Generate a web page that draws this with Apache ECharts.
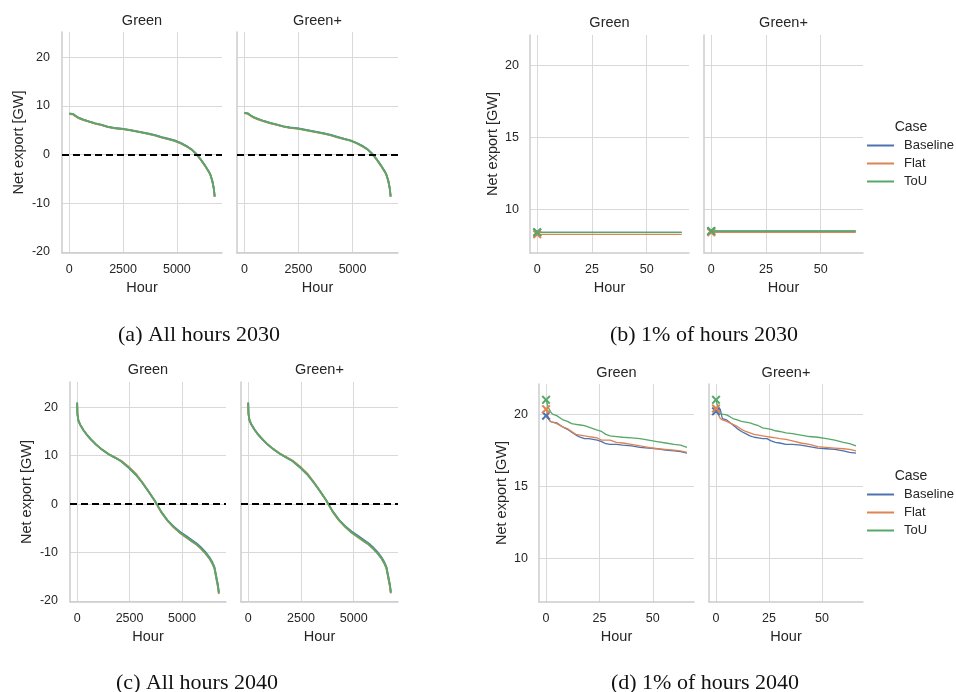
<!DOCTYPE html>
<html>
<head>
<meta charset="utf-8">
<script src="https://cdn.jsdelivr.net/npm/echarts@6/dist/echarts.min.js"></script>
<style>
html, body { margin: 0; padding: 0; background: #fff; }
#main { width: 956px; height: 692px; }
</style>
</head>
<body>
<div id="main"></div>
<script>
var caseNames = ['Baseline', 'Flat', 'ToU'];
var caseColors = ['#4c72b0', '#dd8452', '#55a868'];
var scenarios = ['Green', 'Green+'];

// duration curves, all hours (sorted net export), sampled hours
var hoursAll = [0, 15, 60, 150, 300, 450, 650, 900, 1200, 1500, 1800, 2100, 2500, 2800, 3100, 3400,
    3700, 4000, 4300, 4600, 4900, 5200, 5500, 5700, 5900, 6100, 6300, 6450, 6550, 6650, 6720, 6760];

var all2030GreenBaseline = [8.45, 8.45, 8.45, 8.4, 7.95, 7.55, 7.2, 6.85, 6.45, 6.1, 5.72, 5.48, 5.3, 5.1, 4.85, 4.6,
    4.3, 4.0, 3.62, 3.28, 2.92, 2.38, 1.65, 1.05, 0.2, -0.9, -2.15, -3.2, -3.95, -5.35, -6.95, -8.55];
var all2030GreenFlat = [8.35, 8.35, 8.35, 8.3, 7.85, 7.45, 7.1, 6.78, 6.4, 6.05, 5.68, 5.43, 5.25, 5.02, 4.78, 4.52,
    4.22, 3.92, 3.52, 3.17, 2.82, 2.27, 1.57, 0.97, 0.12, -0.98, -2.23, -3.28, -4.05, -5.45, -7.05, -8.65];
var all2030GreenToU = [8.45, 8.45, 8.45, 8.4, 7.95, 7.55, 7.2, 6.85, 6.45, 6.1, 5.7, 5.45, 5.27, 5.05, 4.8, 4.55,
    4.25, 3.95, 3.55, 3.2, 2.85, 2.3, 1.6, 1.0, 0.15, -0.95, -2.2, -3.25, -4.0, -5.4, -7.0, -8.6];

var all2030GreenPlusBaseline = [8.6, 8.6, 8.6, 8.5, 8.05, 7.65, 7.3, 6.92, 6.52, 6.17, 5.82, 5.58, 5.38, 5.15, 4.9, 4.65,
    4.35, 4.05, 3.66, 3.3, 2.95, 2.4, 1.7, 1.1, 0.25, -0.85, -2.1, -3.15, -3.9, -5.3, -6.9, -8.55];
var all2030GreenPlusFlat = [8.5, 8.5, 8.5, 8.42, 7.95, 7.55, 7.2, 6.84, 6.45, 6.1, 5.75, 5.5, 5.3, 5.06, 4.8, 4.55,
    4.25, 3.96, 3.56, 3.2, 2.86, 2.3, 1.6, 1.0, 0.15, -0.95, -2.2, -3.25, -4.0, -5.4, -7.0, -8.65];
var all2030GreenPlusToU = [8.6, 8.6, 8.6, 8.5, 8.05, 7.65, 7.3, 6.9, 6.5, 6.15, 5.8, 5.55, 5.35, 5.1, 4.85, 4.6,
    4.3, 4.0, 3.6, 3.25, 2.9, 2.35, 1.65, 1.05, 0.2, -0.9, -2.15, -3.2, -3.95, -5.35, -6.95, -8.6];

var all2040GreenBaseline = [20.9, 18.5, 17.2, 16.3, 15.25, 14.35, 13.35, 12.28, 11.2, 10.3, 9.6, 8.85, 7.35, 6.05, 4.45, 2.6,
    0.7, -1.55, -3.3, -4.6, -5.7, -6.6, -7.5, -8.1, -8.9, -9.8, -10.9, -12.0, -13.0, -15.2, -16.8, -18.2];
var all2040GreenFlat = [20.8, 18.55, 17.25, 16.35, 15.3, 14.4, 13.4, 12.32, 11.25, 10.35, 9.68, 8.95, 7.55, 6.3, 4.55, 2.7,
    0.7, -1.6, -3.4, -4.8, -5.95, -6.9, -7.8, -8.4, -9.2, -10.1, -11.2, -12.3, -13.3, -15.6, -17.2, -18.5];
var all2040GreenToU = [21.0, 18.6, 17.3, 16.4, 15.3, 14.4, 13.4, 12.3, 11.2, 10.3, 9.6, 8.85, 7.4, 6.1, 4.45, 2.65,
    0.75, -1.5, -3.3, -4.7, -5.85, -6.8, -7.7, -8.3, -9.1, -10.0, -11.1, -12.2, -13.2, -15.5, -17.0, -18.4];

var all2040GreenPlusBaseline = [20.9, 18.6, 17.3, 16.4, 15.35, 14.45, 13.45, 12.38, 11.3, 10.4, 9.65, 8.9, 7.4, 6.1, 4.5, 2.65,
    0.75, -1.5, -3.25, -4.55, -5.65, -6.55, -7.45, -8.05, -8.85, -9.75, -10.85, -11.95, -12.95, -15.1, -16.7, -18.1];
var all2040GreenPlusFlat = [20.8, 18.65, 17.35, 16.45, 15.4, 14.5, 13.5, 12.42, 11.35, 10.45, 9.72, 9.0, 7.6, 6.35, 4.6, 2.75,
    0.75, -1.55, -3.35, -4.75, -5.9, -6.85, -7.75, -8.35, -9.15, -10.05, -11.15, -12.25, -13.25, -15.5, -17.1, -18.4];
var all2040GreenPlusToU = [21.0, 18.7, 17.4, 16.5, 15.4, 14.5, 13.5, 12.4, 11.3, 10.4, 9.65, 8.9, 7.45, 6.15, 4.5, 2.7,
    0.8, -1.45, -3.25, -4.65, -5.8, -6.75, -7.65, -8.25, -9.05, -9.95, -11.05, -12.15, -13.15, -15.4, -16.9, -18.3];

// top 1% of hours
var hours1pct2030 = [0, 66];
var top2030GreenBaseline = [8.38, 8.38];
var top2030GreenFlat = [8.25, 8.25];
var top2030GreenToU = [8.39, 8.39];
var top2030GreenPlusBaseline = [8.47, 8.47];
var top2030GreenPlusFlat = [8.39, 8.39];
var top2030GreenPlusToU = [8.48, 8.48];

var hours1pct2040 = [0, 1, 2, 3, 5, 8, 10, 12, 14, 16, 18, 20, 22, 24, 26, 28, 30, 33, 36, 40, 44, 48, 52, 56, 60, 63, 66];
var top2040GreenBaseline = [19.9, 19.7, 19.5, 19.45, 19.4, 19.1, 18.95, 18.75, 18.55, 18.4, 18.3, 18.3, 18.25, 18.2,
    18.1, 17.95, 17.9, 17.9, 17.85, 17.8, 17.7, 17.65, 17.6, 17.5, 17.45, 17.4, 17.3];
var top2040GreenFlat = [20.35, 19.8, 19.5, 19.45, 19.35, 19.1, 19.0, 18.8, 18.6, 18.55, 18.5, 18.45, 18.4, 18.35,
    18.2, 18.2, 18.2, 18.05, 18.0, 17.9, 17.8, 17.7, 17.6, 17.55, 17.5, 17.45, 17.35];
var top2040GreenToU = [21.0, 20.5, 20.2, 20.0, 19.9, 19.6, 19.5, 19.35, 19.3, 19.25, 19.2, 19.1, 19.0, 18.9,
    18.8, 18.6, 18.5, 18.45, 18.4, 18.35, 18.3, 18.2, 18.1, 18.0, 17.9, 17.85, 17.7];
var top2040GreenPlusBaseline = [20.2, 20.3, 20.35, 19.7, 19.6, 19.25, 19.0, 18.8, 18.65, 18.5, 18.4, 18.35, 18.3, 18.3,
    18.15, 18.05, 18.0, 17.9, 17.9, 17.85, 17.75, 17.65, 17.6, 17.55, 17.45, 17.35, 17.3];
var top2040GreenPlusFlat = [20.4, 20.0, 19.7, 19.6, 19.5, 19.3, 19.15, 18.95, 18.8, 18.7, 18.6, 18.55, 18.5, 18.45,
    18.4, 18.35, 18.3, 18.25, 18.15, 18.0, 17.9, 17.75, 17.7, 17.65, 17.6, 17.55, 17.45];
var top2040GreenPlusToU = [21.0, 20.4, 20.05, 20.0, 19.95, 19.7, 19.6, 19.5, 19.45, 19.4, 19.3, 19.2, 19.05, 19.0,
    18.95, 18.85, 18.8, 18.7, 18.65, 18.55, 18.45, 18.4, 18.3, 18.2, 18.05, 17.95, 17.8];

var hourTicksAll = [0, 2500, 5000];
var hourTicks1pct = [0, 25, 50];
var exportTicksAll = [-20, -10, 0, 10, 20];
var exportTicks1pct = [10, 15, 20];

var captions = ['(a) All hours 2030', '(b) 1% of hours 2030', '(c) All hours 2040', '(d) 1% of hours 2040'];

var fig = {
    font: '"Liberation Sans", Arial, sans-serif',
    ink: '#262626',
    // x marker, like matplotlib 'x'
    cross: 'path://M1.6,0 L5,3.4 L8.4,0 L10,1.6 L6.6,5 L10,8.4 L8.4,10 L5,6.6 L1.6,10 L0,8.4 L3.4,5 L0,1.6 Z',

    draw: function (id) {
        var myChart = echarts.init(document.getElementById(id), null, {renderer: 'canvas'});
        myChart.setOption(this.getOption());
    },

    panels: function () {
        var allX = {min: -340, max: 7100, ticks: hourTicksAll};
        var pctX = {min: -3.3, max: 69.3, ticks: hourTicks1pct};
        var allY = {min: -20.2, max: 25.2, ticks: exportTicksAll};
        var pctY = {min: 6.95, max: 22.1, ticks: exportTicks1pct};
        return [
            {box: [62, 32, 160, 221], x: allX, y: allY, hours: hoursAll, zero: true, marks: false, first: true, nameGap: 36, labelMargin: 12, titleY: 21,
                data: [all2030GreenBaseline, all2030GreenFlat, all2030GreenToU]},
            {box: [237, 32, 161, 221], x: allX, y: allY, hours: hoursAll, zero: true, marks: false, first: false, titleY: 21,
                data: [all2030GreenPlusBaseline, all2030GreenPlusFlat, all2030GreenPlusToU]},
            {box: [530, 35, 159, 218], x: pctX, y: pctY, hours: hours1pct2030, zero: false, marks: true, first: true, nameGap: 30, labelMargin: 11, titleY: 23,
                data: [top2030GreenBaseline, top2030GreenFlat, top2030GreenToU]},
            {box: [704, 35, 159, 218], x: pctX, y: pctY, hours: hours1pct2030, zero: false, marks: true, first: false, titleY: 23,
                data: [top2030GreenPlusBaseline, top2030GreenPlusFlat, top2030GreenPlusToU]},
            {box: [70, 382, 156, 220], x: allX, y: allY, hours: hoursAll, zero: true, marks: false, first: true, nameGap: 36, labelMargin: 12, titleY: 370,
                data: [all2040GreenBaseline, all2040GreenFlat, all2040GreenToU]},
            {box: [241, 382, 157, 220], x: allX, y: allY, hours: hoursAll, zero: true, marks: false, first: false, titleY: 370,
                data: [all2040GreenPlusBaseline, all2040GreenPlusFlat, all2040GreenPlusToU]},
            {box: [539, 384, 155, 218], x: pctX, y: pctY, hours: hours1pct2040, zero: false, marks: true, first: true, nameGap: 30, labelMargin: 11, titleY: 373,
                data: [top2040GreenBaseline, top2040GreenFlat, top2040GreenToU]},
            {box: [709, 384, 154, 218], x: pctX, y: pctY, hours: hours1pct2040, zero: false, marks: true, first: false, titleY: 373,
                data: [top2040GreenPlusBaseline, top2040GreenPlusFlat, top2040GreenPlusToU]}
        ];
    },

    getOption: function () {
        var that = this;
        var option = {
            animation: false,
            backgroundColor: '#ffffff',
            textStyle: {fontFamily: this.font, color: this.ink},
            grid: [], xAxis: [], yAxis: [], series: [], graphic: [],
            legend: [this.legend(134), this.legend(483)]
        };
        var panels = this.panels();
        echarts.util.each(panels, function (p, idx) {
            that.addPanel(option, p, idx);
        });

        var capPos = [[199, 335], [704, 335], [197, 683], [705, 683]];
        echarts.util.each(captions, function (c, i) {
            option.graphic.push({
                type: 'text', x: capPos[i][0], y: capPos[i][1], silent: true,
                style: {text: c, fill: '#111', font: '22px "Liberation Serif", "DejaVu Serif", serif',
                    align: 'center', verticalAlign: 'middle'}
            });
        });
        echarts.util.each([127, 476], function (y) {
            option.graphic.push({
                type: 'text', x: 911, y: y, silent: true,
                style: {text: 'Case', fill: that.ink, font: '14px ' + that.font, align: 'center', verticalAlign: 'middle'}
            });
        });
        return option;
    },

    legend: function (top) {
        return {
            data: caseNames, orient: 'vertical', left: 862, top: top,
            itemWidth: 27, itemHeight: 14, itemGap: 5, icon: 'path://M0,6 L27,6 L27,8 L0,8 Z',
            textStyle: {fontSize: 13, color: this.ink, fontFamily: this.font, padding: [0, 0, 0, 5]},
            selectedMode: false
        };
    },

    addPanel: function (option, p, idx) {
        var that = this;
        var gridLine = {show: true, lineStyle: {color: '#d9d9d9', width: 1}};
        var spine = {show: true, onZero: false, lineStyle: {color: '#cccccc', width: 1.5}};
        option.grid.push({left: p.box[0], top: p.box[1], width: p.box[2], height: p.box[3],
            containLabel: false, outerBoundsMode: 'none'});
        option.xAxis.push({
            type: 'value', gridIndex: idx, min: p.x.min, max: p.x.max,
            axisLine: spine,
            axisTick: {show: false, customValues: p.x.ticks},
            axisLabel: {customValues: p.x.ticks, fontSize: 12.5, color: this.ink, margin: 10,
                formatter: function (v) { return String(v); }},
            splitLine: gridLine,
            name: 'Hour', nameLocation: 'middle', nameGap: 27,
            nameTextStyle: {fontSize: 14.5, color: this.ink}
        });
        option.yAxis.push({
            type: 'value', gridIndex: idx, min: p.y.min, max: p.y.max,
            axisLine: spine,
            axisTick: {show: false, customValues: p.y.ticks},
            axisLabel: {show: p.first, customValues: p.y.ticks, fontSize: 12.5, color: this.ink, margin: p.labelMargin || 12},
            splitLine: gridLine,
            name: p.first ? 'Net export [GW]' : '', nameLocation: 'middle', nameGap: p.nameGap || 30,
            nameTextStyle: {fontSize: 14.5, color: this.ink}
        });

        echarts.util.each(p.data, function (vals, k) {
            var s = {
                type: 'line', name: caseNames[k], xAxisIndex: idx, yAxisIndex: idx,
                data: p.hours.map(function (h, i) { return [h, vals[i]]; }),
                symbol: 'none', showSymbol: false, silent: true,
                lineStyle: {color: caseColors[k], width: p.marks ? 1.3 : 1.8},
                itemStyle: {color: caseColors[k]},
                z: 2 + k
            };
            if (p.zero && k === 0) {
                s.markLine = {
                    silent: true, symbol: ['none', 'none'], label: {show: false},
                    lineStyle: {color: '#000000', width: 2, type: [7, 4]},
                    emphasis: {disabled: true},
                    data: [{yAxis: 0}]
                };
            }
            option.series.push(s);
        });
        if (p.marks) {
            echarts.util.each(p.data, function (vals, k) {
                option.series.push({
                    type: 'scatter', name: caseNames[k] + ' max', xAxisIndex: idx, yAxisIndex: idx,
                    data: [[p.hours[0], vals[0]]],
                    symbol: that.cross, symbolSize: 9, silent: true,
                    itemStyle: {color: caseColors[k], opacity: 1},
                    z: 6 + k
                });
            });
        }

        var cx = p.box[0] + p.box[2] / 2;
        option.graphic.push({
            type: 'text', x: cx, y: p.titleY, silent: true,
            style: {text: scenarios[idx % 2], fill: this.ink, font: '14.5px ' + this.font,
                align: 'center', verticalAlign: 'middle'}
        });
    }
};

fig.draw('main');
</script>
</body>
</html>
